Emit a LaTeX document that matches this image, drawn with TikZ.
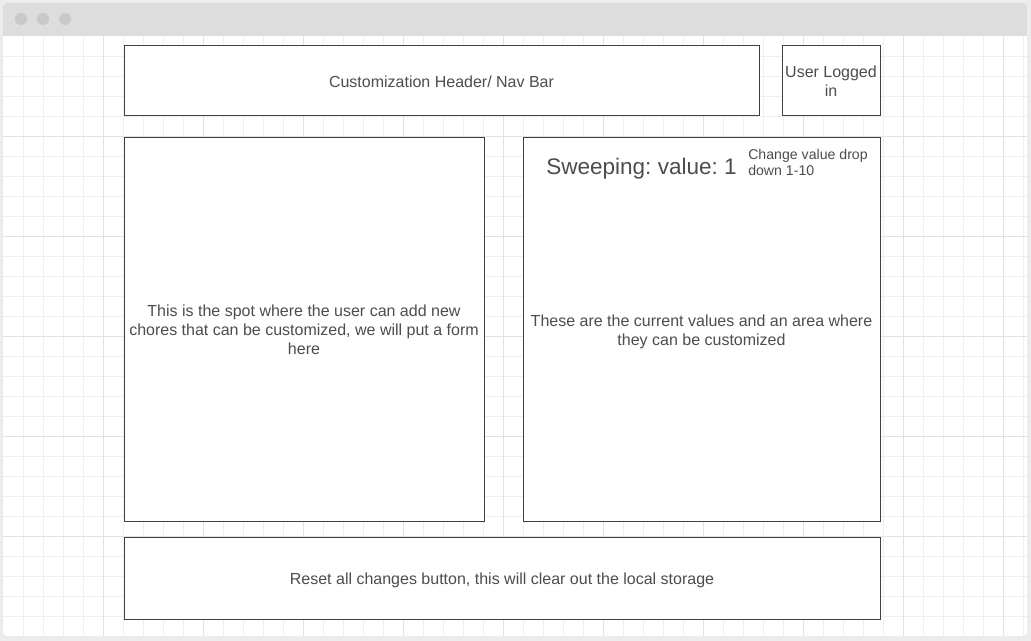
\documentclass[tikz,border=0pt]{standalone}
\usepackage{fontspec}
\setmainfont{Liberation Sans}
\newdimen\pxu \pxu=0.75pt
\definecolor{pagebg}{HTML}{ECECEC}
\definecolor{titlebar}{HTML}{DDDDDD}
\definecolor{dotgray}{HTML}{C9C9C9}
\definecolor{gridminor}{HTML}{EFEFEF}
\definecolor{gridmajor}{HTML}{E2E2E2}
\definecolor{boxline}{HTML}{404040}
\definecolor{labeltext}{HTML}{4D4D4D}
\tikzset{
  panel/.style={draw=boxline, fill=white, line width=1\pxu, inner sep=2\pxu, outer sep=0pt,
    text=labeltext, align=center, font=\frenchspacing\fontsize{12}{14.4}\selectfont},
  plainlabel/.style={inner sep=0pt, text=labeltext, align=center,
    font=\frenchspacing\fontsize{12}{14.4}\selectfont},
}
\begin{document}
\begin{tikzpicture}[x=1\pxu, y=-1\pxu]
\useasboundingbox (0,0) rectangle (1031,641);
% page and browser window
\fill[pagebg] (0,0) rectangle (1031,641);
\fill[white, rounded corners=4\pxu] (3,3) rectangle (1027,636);
\fill[titlebar, rounded corners=4\pxu] (3,3) rectangle (1027,36);
\fill[titlebar] (3,26) rectangle (1027,36);
\foreach \cx in {21,43,65} \fill[dotgray] (\cx,19) circle (6\pxu);
% grid
\begin{scope}
\clip (3,36) rectangle (1027,636);
\foreach \gx in {23,43,...,1023} \draw[gridminor, line width=1\pxu] (\gx,36) -- (\gx,636);
\foreach \gy in {56.7,76.7,...,630} \draw[gridminor, line width=1\pxu] (3,\gy) -- (1027,\gy);
\foreach \gx in {103,203,...,1003} \draw[gridmajor, line width=1\pxu] (\gx,36) -- (\gx,636);
\foreach \gy in {136.7,236.7,...,630} \draw[gridmajor, line width=1\pxu] (3,\gy) -- (1027,\gy);
\end{scope}
% layout blocks
\node[panel, minimum width=635\pxu, minimum height=70\pxu] (header) at (441.5,81) {};
\node[plainlabel] (headertext) at (441.5,82) {Customization Header/ Nav Bar};
\node[panel, minimum width=98\pxu, minimum height=70\pxu] (user) at (831,81)
  {User Logged\\in};
\node[panel, minimum width=360\pxu, minimum height=383\pxu] (addform) at (304,329.5)
  {This is the spot where the user can add new\\chores that can be customized, we will put a form\\here};
\node[panel, minimum width=357\pxu, minimum height=383\pxu] (values) at (701.5,329.5) {};
\node[plainlabel] (valuestext) at (701.5,331.5)
  {These are the current values and an area where\\they can be customized};
\node[panel, minimum width=756\pxu, minimum height=82\pxu] (reset) at (502,578) {};
\node[plainlabel] (resettext) at (502,580)
  {Reset all changes button, this will clear out the local storage};
% value editor inside the values panel
\node[plainlabel, anchor=base, font=\frenchspacing\fontsize{16.9}{20.3}\selectfont] (sweep) at (641.5,175)
  {Sweeping: value: 1};
\node[plainlabel, anchor=west, align=left, font=\frenchspacing\fontsize{10.6}{12}\selectfont] (dropdown) at (748,162)
  {Change value drop\\down 1-10};
\end{tikzpicture}
\end{document}
